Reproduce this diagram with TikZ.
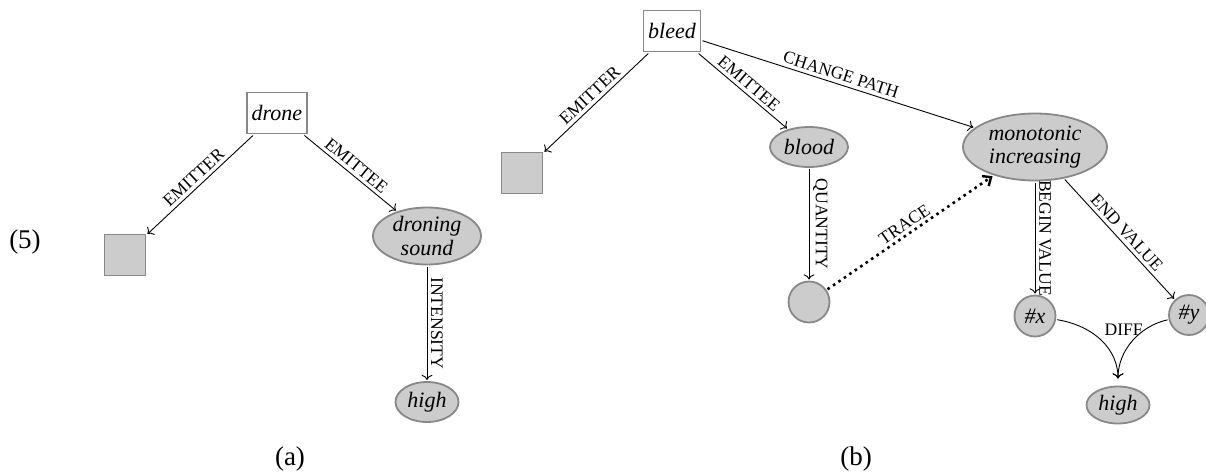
\documentclass[tikz,border=0pt]{standalone}
\usepackage{fontspec}
\setmainfont{Liberation Serif}
\usetikzlibrary{shapes.geometric,arrows.meta}
\definecolor{nfill}{HTML}{CCCCCC}
\definecolor{nborder}{HTML}{888888}
\begin{document}
\begin{tikzpicture}[x=0.5pt,y=-0.5pt,
  every node/.style={font=\fontsize{11}{11.7}\selectfont\itshape, outer sep=1pt},
  pbox/.style={rectangle, draw=nborder, fill=white, line width=0.9pt, inner sep=0pt},
  gbox/.style={rectangle, draw=nborder, fill=nfill, line width=0.9pt, inner sep=0pt, minimum size=20.5pt},
  gell/.style={ellipse, draw=nborder, fill=nfill, line width=0.9pt, inner sep=0pt},
  gcirc/.style={circle, draw=nborder, fill=nfill, line width=0.9pt, inner sep=0pt, minimum size=20.5pt},
  arr/.style={->, line width=0.45pt},
  trace/.style={-{Straight Barb[length=3.5pt,width=6pt,line width=1.2pt]}, line width=1.3pt, dotted},
  lab/.style={font=\fontsize{8.8}{10}\selectfont\upshape, sloped, above, inner sep=2pt, outer sep=0pt, pos=0.5},
  difflab/.style={font=\fontsize{8.8}{10}\selectfont\upshape, inner sep=1pt, outer sep=0pt, pos=0.3, anchor=east},
  capt/.style={font=\fontsize{13.5}{15}\selectfont\upshape}]
\path[use as bounding box] (0,0) rectangle (1206,472);

% panel (a)
\node[capt] (num) at (25,242) {(5)};
\node[pbox, minimum width=30pt, minimum height=20.5pt] (drone) at (277,113) {drone};
\node[gbox] (sqA) at (125,255) {};
\node[gell, minimum width=54pt, minimum height=28.5pt,
  label={[align=center]center:droning\\sound}] (droning) at (427,236) {};
\node[gell, minimum width=31.5pt, minimum height=20pt, label=center:high] (highA) at (427,402) {};
\node[capt] (capA) at (290,459) {(a)};

% panel (b)
\node[pbox, minimum width=28.5pt, minimum height=20.5pt] (bleed) at (672,31) {bleed};
\node[gbox] (sqB) at (522,173) {};
\node[gell, minimum width=39pt, minimum height=20pt, label=center:blood] (blood) at (809,147) {};
\node[gcirc] (circ) at (809,302) {};
\node[gell, minimum width=72pt, minimum height=33.5pt,
  label={[align=center]center:monotonic\\increasing}] (mono) at (1035,147) {};
\node[gcirc] (nx) at (1035,316) {\#x};
\node[gcirc, minimum size=20pt] (ny) at (1189,315) {\#y};
\node[gell, minimum width=31.5pt, minimum height=18.5pt, label=center:high] (highB) at (1118,405) {};
\node[capt] (capB) at (856,459) {(b)};

% edges (a)
\draw[arr] (drone) -- node[lab]{EMITTER} (sqA);
\draw[arr] (drone) -- node[lab]{EMITTEE} (droning);
\draw[arr] (droning) -- node[lab]{INTENSITY} (highA);

% edges (b)
\draw[arr] (bleed) -- node[lab]{EMITTER} (sqB);
\draw[arr] (bleed) -- node[lab]{EMITTEE} (blood);
\draw[arr] (bleed) -- node[lab]{CHANGE PATH} (mono);
\draw[arr] (blood) -- node[lab]{QUANTITY} (circ);
\draw[trace] (circ) -- node[lab]{TRACE} (mono);
\draw[arr] (mono) -- node[lab]{BEGIN VALUE} (nx);
\draw[arr] (mono) -- node[lab]{END VALUE} (ny);
\draw[arr, shorten >=3pt] (nx) .. controls (1095,326) and (1118,350) .. (highB);
\draw[arr, shorten >=3pt] (ny) .. controls (1140,326) and (1118,350) .. node[difflab]{DIFF} (highB);
\end{tikzpicture}
\end{document}
